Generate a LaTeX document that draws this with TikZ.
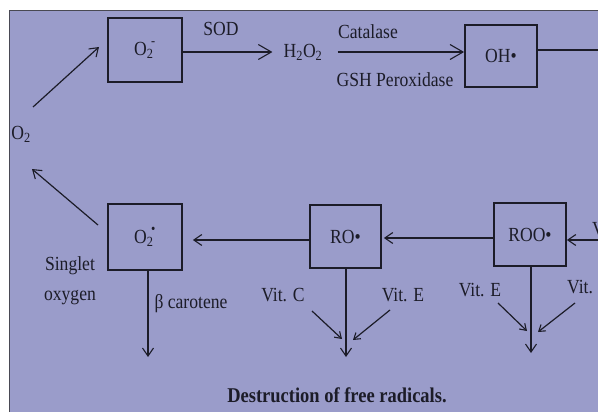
\documentclass[tikz,border=0pt]{standalone}
\usepackage{fontspec}
\setmainfont{Liberation Serif}[FakeStretch=0.88]
\usetikzlibrary{arrows.meta}
\definecolor{paper}{RGB}{154,156,202}
\definecolor{ink}{RGB}{28,28,40}
\begin{document}
\begin{tikzpicture}[x=1pt,y=-1pt,
  every node/.style={text=ink, font=\fontsize{20}{22}\selectfont, inner sep=1pt},
  boxnode/.style={draw=ink, line width=1.8pt, minimum width=#1, minimum height=63pt, inner sep=0pt},
  conn/.style={draw=ink, line width=1.2pt},
  arr/.style={conn, -{Straight Barb[length=8pt,width=11pt,line width=1.1pt]}},
  bigarr/.style={conn, -{Straight Barb[length=13pt,width=15pt,line width=1.1pt]}},
  smallarr/.style={conn, -{Straight Barb[length=6pt,width=8pt,line width=1.1pt]}},
  lbl/.style={inner sep=1pt}]
\useasboundingbox (0,0) rectangle (598,412);
\fill[white] (0,0) rectangle (598,412);
\fill[paper] (9,11) rectangle (598,412);
\draw[ink!80, line width=1pt] (9,412) -- (9,11) -- (598,11);
\begin{scope}
\clip (9,11) rectangle (598,412);
% boxes
\node[boxnode=74pt, minimum height=64pt] (o2m) at (145,50) {O\textsubscript{2}\kern-0.12em\raisebox{0.15em}{\textsuperscript{-}}};
\node[boxnode=72pt, minimum height=62pt] (oh) at (501,56) {OH\textbullet};
\node[boxnode=74pt, minimum height=66pt] (o2s) at (145,237) {O\textsubscript{2}\kern-0.12em\raisebox{0.15em}{\textsuperscript{\textbullet}}};
\node[boxnode=71pt] (ro) at (345.5,236.5) {RO\textbullet};
\node[boxnode=72pt] (roo) at (530,234.5) {ROO\textbullet};
% plain labels
\node[lbl] (h2o2) at (303,52) {H\textsubscript{2}O\textsubscript{2}};
\node[lbl] (sod) at (221,29) {SOD};
\node[lbl] (cat) at (368,32) {Catalase};
\node[lbl] (gsh) at (395,80) {GSH Peroxidase};
\node[lbl] (o2) at (21,134) {O\textsubscript{2}};
\node[lbl, align=center, font=\fontsize{20}{30}\selectfont] (sing) at (70,281) {Singlet\\oxygen};
\node[lbl] (bcar) at (191,304) {β carotene};
\node[lbl] (vc1) at (283,295) {Vit. C};
\node[lbl] (ve1) at (403,295) {Vit. E};
\node[lbl] (ve2) at (480,290) {Vit. E};
\node[lbl, anchor=west] (vc2) at (566,287) {Vit. C};
\node[lbl, anchor=west] (vx) at (591,229) {Vit. E};
\node[lbl, font=\fontsize{21}{22}\selectfont\bfseries] (title) at (337,395) {Destruction of free radicals.};
% free ends
\coordinate (a1) at (33,107);
\coordinate (a1t) at (99,47);
\coordinate (a2) at (98,225);
\coordinate (a2t) at (32,169);
\coordinate (rOH) at (598,50);
\coordinate (rIn) at (598,240);
\coordinate (d1) at (148,357);
\coordinate (d2) at (346,357);
\coordinate (d3) at (531,353);
\coordinate (t1) at (342,339);
\coordinate (t2) at (353,340);
\coordinate (t3) at (527,331);
\coordinate (t4) at (538,332);
\coordinate (s1) at (312,311);
\coordinate (s2) at (390,310);
\coordinate (s3) at (498,303);
\coordinate (s4) at (575,303);
% connectors
\draw[bigarr] (o2m.east |- h2o2.west) -- ([xshift=-10pt]h2o2.west);
\draw[bigarr] ([xshift=14pt]h2o2.east) -- (oh.west |- h2o2.east);
\draw[conn] (oh.east |- rOH) -- (rOH);
\draw[arr] (a1) -- (a1t);
\draw[arr] (a2) -- (a2t);
\draw[arr] (ro.west |- 0,240) -- ([xshift=10pt]o2s.east |- 0,240);
\draw[arr] (roo.west |- 0,238) -- ([xshift=2pt]ro.east |- 0,238);
\draw[arr] (rIn) -- (roo.east |- rIn);
\draw[arr] (o2s.south -| d1) -- (d1);
\draw[arr] (ro.south -| d2) -- (d2);
\draw[arr] (roo.south -| d3) -- (d3);
\draw[smallarr] (s1) -- (t1);
\draw[smallarr] (s2) -- (t2);
\draw[smallarr] (s3) -- (t3);
\draw[smallarr] (s4) -- (t4);
\end{scope}
\end{tikzpicture}
\end{document}
